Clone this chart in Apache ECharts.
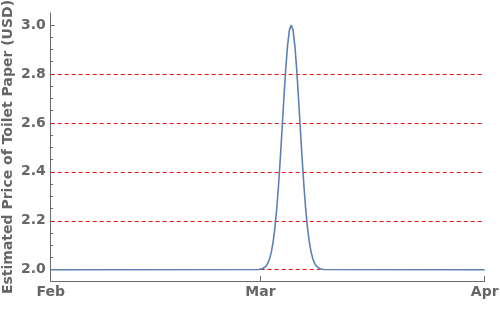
<!DOCTYPE html>
<html><head><meta charset="utf-8">
<script src="https://cdn.jsdelivr.net/npm/echarts@6/dist/echarts.min.js"></script>
<style>html,body{margin:0;padding:0;background:#fff}#c{width:500px;height:326px}</style>
</head><body><div id="c"></div><script>
// ---- data ----
const dates = [
  '2020-02-01 00:00','2020-02-29 18:00',
  '2020-03-01 06:00','2020-03-01 12:00','2020-03-01 18:00',
  '2020-03-02 00:00','2020-03-02 06:00','2020-03-02 12:00','2020-03-02 18:00',
  '2020-03-03 00:00','2020-03-03 06:00','2020-03-03 12:00','2020-03-03 18:00',
  '2020-03-04 00:00','2020-03-04 06:00','2020-03-04 12:00','2020-03-04 18:00',
  '2020-03-05 00:00','2020-03-05 06:00','2020-03-05 12:00','2020-03-05 18:00',
  '2020-03-06 00:00','2020-03-06 06:00','2020-03-06 12:00','2020-03-06 18:00',
  '2020-03-07 00:00','2020-03-07 06:00','2020-03-07 12:00','2020-03-07 18:00',
  '2020-03-08 00:00','2020-03-08 06:00','2020-03-08 12:00','2020-03-08 18:00',
  '2020-03-09 00:00','2020-03-09 06:00','2020-03-09 18:00','2020-04-01 00:00'
];
const prices = [
  2.000, 2.001,
  2.004, 2.008, 2.014,
  2.026, 2.044, 2.072, 2.114,
  2.172, 2.249, 2.345, 2.458,
  2.581, 2.707, 2.823, 2.917,
  2.979, 3.000, 2.979, 2.917,
  2.823, 2.707, 2.581, 2.458,
  2.345, 2.249, 2.172, 2.114,
  2.072, 2.044, 2.026, 2.014,
  2.008, 2.004, 2.001, 2.000
];
const xRange = ['2020-02-01 00:00', '2020-04-01 00:00'];
const xTickDates = ['2020-02-01 00:00', '2020-03-01 00:00', '2020-04-01 00:00'];
const xTickLabels = ['Feb', 'Mar', 'Apr'];
const yRange = [1.954, 3.049];
const yTickValues = [2.0, 2.2, 2.4, 2.6, 2.8, 3.0];
const yMinorTickValues = [2.05, 2.1, 2.15, 2.25, 2.3, 2.35, 2.45, 2.5, 2.55, 2.65, 2.7, 2.75, 2.85, 2.9, 2.95];
const gridValues = [2.0, 2.2, 2.4, 2.6, 2.8];
const yTitle = 'Estimated Price of Toilet Paper (USD)';

// convert a date string to days since the start of the x range (UTC, no DST)
function toMs(s) {
  const [d, t] = s.split(' ');
  const [Y, M, D] = d.split('-').map(Number);
  const [h, m] = t.split(':').map(Number);
  return Date.UTC(Y, M - 1, D, h, m);
}
const t0 = toMs(xRange[0]);
const toDay = s => (toMs(s) - t0) / 86400000;
const xTickDays = xTickDates.map(toDay);
const AX = '#6b6b6b', TX = '#666666', FF = 'DejaVu Sans';

const chart = echarts.init(document.getElementById('c'));
chart.setOption({
  animation: false,
  backgroundColor: '#fff',
  grid: { left: 50.7, right: 15.3, top: 13, bottom: 45, containLabel: false, outerBoundsMode: 'none' },
  xAxis: {
    type: 'value', min: toDay(xRange[0]), max: toDay(xRange[1]),
    axisLine: { show: true, lineStyle: { color: AX, width: 1 } },
    axisTick: { show: true, inside: true, length: 5, customValues: xTickDays, lineStyle: { color: AX } },
    axisLabel: {
      customValues: xTickDays, color: TX, fontWeight: 'bold', fontSize: 14, fontFamily: FF, margin: 4,
      showMinLabel: true, showMaxLabel: true, hideOverlap: false,
      formatter: v => {
        let best = 0;
        xTickDays.forEach((t, i) => { if (Math.abs(t - v) < Math.abs(xTickDays[best] - v)) best = i; });
        return xTickLabels[best];
      }
    },
    splitLine: { show: false }
  },
  yAxis: [{
    type: 'value', min: yRange[0], max: yRange[1],
    axisLine: { show: true, lineStyle: { color: AX, width: 1 } },
    axisTick: { show: true, inside: true, length: 4, customValues: yTickValues, lineStyle: { color: AX } },
    axisLabel: { customValues: yTickValues, formatter: v => v.toFixed(1), color: TX, fontWeight: 'bold', fontSize: 14, fontFamily: FF, margin: 5 },
    splitLine: { show: false },
    name: yTitle, nameLocation: 'middle', nameGap: 35, nameMoveOverlap: false,
    nameTextStyle: { color: TX, fontWeight: 'bold', fontSize: 14, fontFamily: FF }
  }, {
    type: 'value', min: yRange[0], max: yRange[1], position: 'left',
    axisLine: { show: false },
    axisTick: { show: true, inside: true, length: 2.5, customValues: yMinorTickValues, lineStyle: { color: AX } },
    axisLabel: { show: false, customValues: yMinorTickValues },
    splitLine: { show: false }
  }],
  series: [{
    type: 'line', yAxisIndex: 0, data: [], z: 1,
    markLine: {
      silent: true, symbol: 'none', z: 1, animation: false,
      label: { show: false },
      lineStyle: { color: '#ee1111', type: [4, 3], width: 1 },
      data: gridValues.map(v => ({ yAxis: v }))
    }
  }, {
    type: 'line', yAxisIndex: 0, z: 3,
    data: dates.map((d, i) => [toDay(d), prices[i]]),
    showSymbol: false, smooth: false,
    lineStyle: { color: '#5e81b5', width: 1.6 },
    itemStyle: { color: '#5e81b5' }
  }]
});
</script></body></html>
